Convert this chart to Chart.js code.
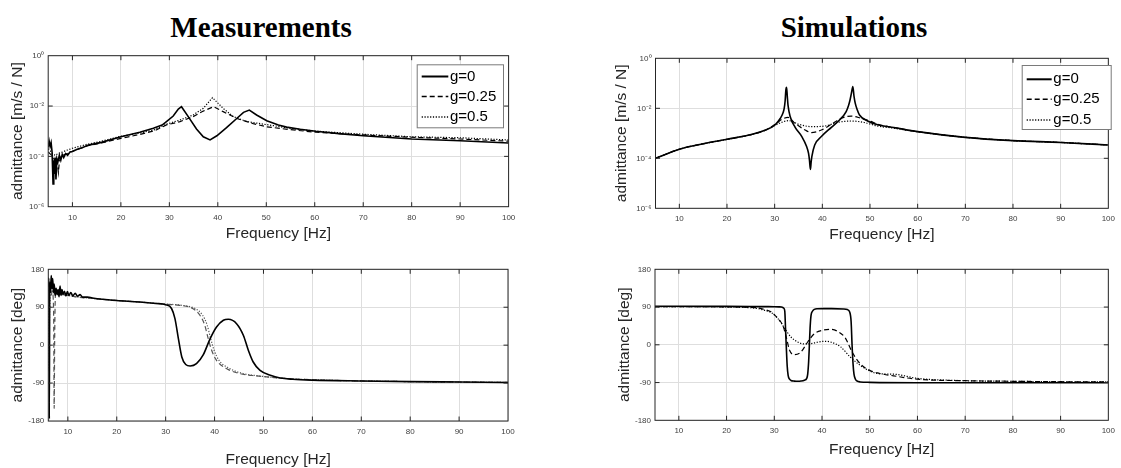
<!DOCTYPE html>
<html>
<head>
<meta charset="utf-8">
<script src="https://cdn.jsdelivr.net/npm/chart.js@4.4.1/dist/chart.umd.min.js"></script>
<style>
  html, body { margin: 0; padding: 0; background: #fff; }
  #fig { position: relative; width: 1121px; height: 468px; overflow: hidden; }
  #fig canvas { position: absolute; left: 0; top: 0; }
  .sup {
    position: absolute; top: 13px; transform: translateX(-50%);
    font: bold 29px "Liberation Serif", "Times New Roman", serif;
    line-height: 29px; white-space: nowrap; color: #000;
  }
</style>
</head>
<body>
<div id="fig">
  <div class="sup" style="left:261px">Measurements</div>
  <div class="sup" style="left:854px">Simulations</div>
  <canvas id="meas-mag"   width="1121" height="468"></canvas>
  <canvas id="sim-mag"    width="1121" height="468"></canvas>
  <canvas id="meas-phase" width="1121" height="468"></canvas>
  <canvas id="sim-phase"  width="1121" height="468"></canvas>
</div>
<script>
// ─────────────────────────────────────────────
//  Data
// ─────────────────────────────────────────────

const LABELS      = ['g=0', 'g=0.25', 'g=0.5'];
const FREQ_TICKS  = [10, 20, 30, 40, 50, 60, 70, 80, 90, 100];
const MAG_TICKS   = [1e-6, 1e-4, 1e-2, 1];
const MAG_TEXT    = { 1e-6: '10⁻⁶', 1e-4: '10⁻⁴', 1e-2: '10⁻²', 1: '10⁰' };
const PHASE_TICKS = [-180, -90, 0, 90, 180];

// Measurements: admittance magnitude [m/s / N]
const measMagF0 = [5.0, 5.2, 5.4, 5.6, 5.8, 6.0, 6.15, 6.3, 6.45, 6.6, 6.8, 7.0, 7.3, 7.6, 7.9, 8.2, 8.6, 9.0, 9.5, 10,
                   11, 12, 13.3, 16, 20, 23.9, 26.7, 28.5, 29.4, 30.8, 31.85, 32.5, 33.9, 35.6, 37, 38.4, 39.8, 41.8,
                   43.9, 45.3, 46.5, 48, 50.1, 52.5, 54.2, 57, 60.2, 65, 70, 80, 90, 100];
const measMag0  = [2.3e-4, 4e-4, 2.5e-4, 3.5e-4, 1.5e-4, 8e-6, 7e-5, 2e-5, 9e-5, 1.2e-5, 8e-5, 6e-5, 1.1e-4, 7e-5, 1.2e-4,
                   9e-5, 1.3e-4, 1.1e-4, 1.5e-4, 1.55e-4, 1.9e-4, 2.2e-4, 2.8e-4, 3.6e-4, 6e-4, 9.1e-4, 1.3e-3, 1.75e-3,
                   2.4e-3, 4e-3, 7.6e-3, 9.4e-3, 3.8e-3, 1.23e-3, 6e-4, 4.5e-4, 6.6e-4, 1.38e-3, 3.2e-3, 5.6e-3, 6.9e-3,
                   4.4e-3, 2.6e-3, 1.78e-3, 1.45e-3, 1.2e-3, 1.0e-3, 8e-4, 6.6e-4, 4.9e-4, 4.2e-4, 3.4e-4];

const measMagF1 = [5.0, 5.5, 6.0, 6.3, 6.6, 6.9, 7.1, 7.3, 7.6, 8, 9, 10, 13, 16, 20, 24, 27, 29.4, 32.2, 34.9, 37, 39.1,
                   41.1, 43.9, 47.3, 50.1, 55, 60.2, 70, 80, 90, 100];
const measMag1  = [1.5e-4, 1.2e-4, 1e-4, 7e-5, 9e-5, 5e-5, 2.3e-5, 6e-5, 1e-4, 1.1e-4, 1.3e-4, 1.6e-4, 2.6e-4, 3.4e-4,
                   5.2e-4, 7.5e-4, 1.05e-3, 1.78e-3, 2.4e-3, 3.8e-3, 6.3e-3, 9.4e-3, 6e-3, 3.2e-3, 2.0e-3, 1.5e-3,
                   1.15e-3, 9.1e-4, 7.1e-4, 5.75e-4, 4.9e-4, 4.0e-4];

const measMagF2 = [5.0, 5.5, 6.0, 6.5, 7, 8, 9, 10, 13, 16, 20, 24, 27, 29.4, 32.2, 34.9, 37, 38.9, 41.1, 43.2, 46, 51.5,
                   55, 60.2, 70, 80, 90, 100];
const measMag2  = [2e-4, 1.6e-4, 1.2e-4, 1.1e-4, 1.3e-4, 1.5e-4, 1.8e-4, 2.1e-4, 3e-4, 4e-4, 6.3e-4, 8.5e-4, 1.15e-3,
                   1.9e-3, 2.8e-3, 4.4e-3, 8.1e-3, 2.15e-2, 8.1e-3, 3.8e-3, 2.4e-3, 1.66e-3, 1.3e-3, 1.0e-3, 7.6e-4,
                   6.0e-4, 5.5e-4, 4.5e-4];

// Simulations: admittance magnitude [m/s / N]
const simMagF0 = [5, 10, 15, 20, 25.3, 28.1, 30, 31.2, 31.8, 32.0, 32.2, 32.35, 32.5, 32.65, 32.8, 33.25, 34.3, 35.7,
                  36.7, 37.1, 37.3, 37.5, 37.65, 37.8, 38.4, 39.8, 41.9, 43.6, 45, 45.5, 45.8, 46.1, 46.4, 46.65, 46.9,
                  47.3, 47.8, 49.5, 51.6, 55, 60, 70, 80, 90, 100];
const simMag0  = [1.0e-4, 2.3e-4, 3.8e-4, 5.75e-4, 9.1e-4, 1.35e-3, 2.1e-3, 4.0e-3, 7e-3, 1.0e-2, 2e-2, 5.4e-2, 6.9e-2,
                  3e-2, 1.35e-2, 4.7e-3, 1.74e-3, 7.4e-4, 2.95e-4, 1.6e-4, 8.5e-5, 3.6e-5, 7e-5, 1.17e-4, 3.4e-4,
                  7.4e-4, 1.74e-3, 3.4e-3, 7.4e-3, 1.3e-2, 2.1e-2, 4e-2, 7.4e-2, 3e-2, 1.6e-2, 9e-3, 5.4e-3, 3.1e-3,
                  2.2e-3, 1.7e-3, 1.17e-3, 6.9e-4, 5.1e-4, 4.3e-4, 3.4e-4];

const simMagF1 = [5, 10, 15, 20, 25.3, 28.1, 30.1, 31.5, 32.8, 34.3, 36.4, 37.7, 39.8, 41.9, 44, 46.1, 48.1, 50.2, 51.6,
                  55, 60, 70, 80, 90, 100];
const simMag1  = [1.0e-4, 2.3e-4, 3.8e-4, 5.75e-4, 9.1e-4, 1.35e-3, 2.3e-3, 3.6e-3, 4.3e-3, 2.5e-3, 1.35e-3, 1.07e-3,
                  1.35e-3, 2.3e-3, 4.0e-3, 4.9e-3, 4.0e-3, 3.0e-3, 2.3e-3, 1.7e-3, 1.17e-3, 6.9e-4, 5.1e-4, 4.3e-4, 3.4e-4];

const simMagF2 = [5, 10, 15, 20, 25.3, 28.1, 30.1, 32.9, 35, 37.7, 40.5, 43.3, 46.1, 48.8, 51.6, 55, 60, 70, 80, 90, 100];
const simMag2  = [1.0e-4, 2.3e-4, 3.8e-4, 5.75e-4, 9.1e-4, 1.35e-3, 2.1e-3, 3.2e-3, 2.3e-3, 1.85e-3, 1.95e-3, 2.75e-3,
                  3.1e-3, 2.7e-3, 1.95e-3, 1.6e-3, 1.15e-3, 6.9e-4, 5.1e-4, 4.3e-4, 3.4e-4];

// Measurements: phase [deg]
const measPhF0 = [6.0, 6.1, 6.2, 6.3, 6.45, 6.6, 6.75, 6.9, 7.05, 7.2, 7.4, 7.6, 7.8, 8.0, 8.2, 8.4, 8.6, 8.8, 9.0, 9.3,
                  9.6, 9.9, 10.2, 10.6, 11, 11.5, 12, 12.5, 13, 14, 15, 17, 20, 24.7, 28, 30, 31.2, 31.9, 32.6, 33.3,
                  34.1, 35, 36.3, 37.7, 39.1, 40.4, 41.8, 42.8, 44.5, 45.9, 46.9, 47.9, 49.3, 51.4, 53.4, 56, 60, 70,
                  80, 90, 100];
const measPh0  = [100, 160, -175, 150, 125, 165, 135, 158, 125, 145, 118, 135, 120, 132, 115, 140, 118, 132, 120, 128,
                  117, 127, 118, 125, 117, 123, 116, 120, 114, 114, 112, 109, 106, 102.5, 99, 96, 87, 63, 15.5, -28,
                  -46, -49.5, -44, -22.5, 15.5, 43, 59, 61.3, 51, 23, -12, -40, -60, -71.6, -78, -81, -83, -85,
                  -86.5, -87.5, -88.5];

const measPhF1 = [6.0, 6.2, 6.4, 6.6, 6.8, 7.0, 7.1, 7.2, 7.3, 7.45, 7.6, 8, 9, 10, 12, 15, 20, 25, 30, 32.9, 35.6, 37,
                  38, 38.7, 39.4, 40.4, 42.5, 45.2, 48.6, 53.4, 60, 70, 80, 90, 100];
const measPh1  = [150, 128, 140, 118, 128, 112, 60, -150, 10, 118, 128, 122, 120, 118, 114, 111, 106, 102, 97, 94.6,
                  86.6, 71, 47, 15.5, -12, -36, -56, -67.6, -73, -78, -82, -85, -86.5, -87.5, -88.5];

const measPhF2 = [6.0, 6.1, 6.15, 6.25, 6.4, 6.6, 6.8, 7.0, 7.3, 7.6, 8, 9, 10, 12, 15, 20, 25, 30, 33, 36, 37.5, 38.5,
                  39.2, 39.9, 40.9, 43, 45.7, 49, 53.4, 60, 70, 80, 90, 100];
const measPh2  = [95, 40, -60, 60, 120, 150, 125, 135, 120, 128, 123, 120, 118, 114, 111, 106, 102, 97.5, 95, 87, 72,
                  47, 15.5, -12, -36, -55, -67, -73, -78, -82, -85, -86.5, -87.5, -88.5];

// Simulations: phase [deg]
const simPhF0 = [5, 10, 20, 25, 28, 30, 31, 31.5, 32.0, 32.2, 32.35, 32.5, 32.7, 32.9, 33.2, 33.5, 34.2, 34.9, 35.6,
                 36.3, 36.8, 37.0, 37.2, 37.35, 37.5, 37.7, 38.0, 38.4, 39, 40.4, 42, 44.5, 45.3, 45.8, 46.1, 46.3,
                 46.5, 46.7, 47.0, 47.3, 48, 50, 60, 70, 80, 90, 100];
const simPh0  = [91.8, 91.8, 91.5, 91.3, 91, 90.8, 90.5, 90, 87, 80, 40, -1, -50, -73, -82, -85, -86.5, -87, -86.5,
                 -84.5, -80, -70, -40, -1, 40, 70, 80, 84.6, 86, 86.2, 86.2, 85.4, 84, 78, 55, -1, -45, -70, -82,
                 -86, -88.5, -89.5, -90.3, -90.3, -90.3, -90.3, -90.3];

const simPhF1 = [5, 15, 20, 24, 26.7, 28, 29.4, 30.8, 31.8, 32.5, 33.2, 34.2, 35.6, 37, 38.4, 40.1, 41.8, 43.5, 44.9,
                 46.3, 48, 50, 52, 55, 60, 70, 80, 90, 100];
const simPh1  = [91, 91, 90.5, 89.5, 87.8, 84, 78, 62, 46, 18.6, -13, -23.5, -17, 6.7, 26.6, 34.5, 37, 30.6, 16, -17,
                 -45, -61, -68, -74, -82, -85.6, -87, -88, -88.5];

const simPhF2 = [5, 15, 20, 24, 26.7, 28, 29.4, 31.1, 32.2, 33.5, 34.9, 36.3, 37.7, 39, 40.4, 41.8, 43.9, 45.9, 48, 50,
                 52, 55, 60, 70, 80, 90, 100];
const simPh2  = [91, 91, 90.3, 89, 86, 82, 76.7, 58, 38.5, 18.6, 6.7, 2, 2.7, 6, 8.3, 6.7, -5, -29, -49, -62.5, -69,
                 -70, -80, -85.6, -87, -88, -88.5];

// ─────────────────────────────────────────────
//  Styling
// ─────────────────────────────────────────────

const FONT       = '"Liberation Sans", Arial, Helvetica, sans-serif';
const AXIS_COLOR = '#262626';
const GRID_COLOR = '#dedede';
const TICK_LEN   = 4.5;
const TITLE_SIZE = 15.5;

const LINE_STYLES = [
  { borderWidth: 1.6, borderDash: [] },
  { borderWidth: 1.2, borderDash: [5, 3] },
  { borderWidth: 1.2, borderDash: [1.2, 1.6] },
];

// inward tick marks on all four sides + black box (MATLAB look)
const frameTicks = {
  id: 'frameTicks',
  afterDatasetsDraw(chart) {
    const { ctx, chartArea: a, scales: { x, y } } = chart;
    ctx.save();
    ctx.strokeStyle = AXIS_COLOR;
    ctx.lineWidth = 1;
    ctx.beginPath();
    x.ticks.forEach(t => {
      const px = x.getPixelForValue(t.value);
      if (px <= a.left + 1 || px >= a.right - 1) return;
      ctx.moveTo(px, a.bottom); ctx.lineTo(px, a.bottom - TICK_LEN);
      ctx.moveTo(px, a.top);    ctx.lineTo(px, a.top + TICK_LEN);
    });
    y.ticks.forEach(t => {
      const py = y.getPixelForValue(t.value);
      if (py <= a.top + 1 || py >= a.bottom - 1) return;
      ctx.moveTo(a.left, py);  ctx.lineTo(a.left + TICK_LEN, py);
      ctx.moveTo(a.right, py); ctx.lineTo(a.right - TICK_LEN, py);
    });
    ctx.stroke();
    ctx.strokeRect(a.left, a.top, a.right - a.left, a.bottom - a.top);
    ctx.restore();
  }
};

// legend box drawn inside the axes, lines taken from the datasets
const boxLegend = {
  id: 'boxLegend',
  afterDraw(chart, args, o) {
    if (!o || !o.box) return;
    const { ctx } = chart;
    const [x0, y0, x1, y1] = o.box;
    ctx.save();
    ctx.fillStyle = '#fff';
    ctx.fillRect(x0, y0, x1 - x0, y1 - y0);
    ctx.strokeStyle = '#7a7a7a';
    ctx.lineWidth = 1;
    ctx.strokeRect(x0 + 0.5, y0 + 0.5, x1 - x0 - 1, y1 - y0 - 1);
    ctx.font = `15px ${FONT}`;
    ctx.textBaseline = 'middle';
    chart.data.datasets.forEach((ds, i) => {
      const yy = o.rows[i];
      ctx.beginPath();
      ctx.setLineDash(ds.borderDash);
      ctx.lineWidth   = ds.borderWidth + 0.4;
      ctx.strokeStyle = ds.borderColor;
      ctx.moveTo(o.line[0], yy);
      ctx.lineTo(o.line[1], yy);
      ctx.stroke();
      ctx.setLineDash([]);
      ctx.fillStyle = '#000';
      ctx.fillText(ds.label, o.textX, yy);
    });
    ctx.restore();
  }
};

// ─────────────────────────────────────────────
//  Chart factory
// ─────────────────────────────────────────────

const pts = (fs, vs) => fs.map((f, i) => ({ x: f, y: vs[i] }));

function makeChart(id, g) {
  const TITLE_HALF = TITLE_SIZE / 2;
  const padLeft    = g.yTitleX - TITLE_HALF;
  const padBottom  = 468 - g.xTitleY - TITLE_HALF;
  const yWidth     = g.L - padLeft;
  const xHeight    = 468 - padBottom - g.B;

  const datasets = g.series.map((s, i) => ({
    label: LABELS[i],
    data: pts(s[0], s[1]),
    borderColor: g.colors[i],
    ...LINE_STYLES[i],
    pointRadius: 0,
    fill: false,
    cubicInterpolationMode: g.smooth ? 'monotone' : 'default',
    tension: 0,
  }));

  const yScale = g.log
    ? { type: 'logarithmic', min: 1e-6, max: 1,
        afterBuildTicks: s => { s.ticks = MAG_TICKS.map(v => ({ value: v })); },
        ticks: { callback: v => MAG_TEXT[v] } }
    : { type: 'linear', min: -180, max: 180,
        afterBuildTicks: s => { s.ticks = PHASE_TICKS.map(v => ({ value: v })); },
        ticks: {} };

  Object.assign(yScale.ticks, { color: '#404040', font: { family: FONT, size: 8 }, padding: 4 });
  Object.assign(yScale, {
    grid:   { color: GRID_COLOR, drawTicks: false },
    border: { display: false },
    title:  { display: true, text: g.yTitle, color: AXIS_COLOR, padding: 0,
              font: { family: FONT, size: TITLE_SIZE, lineHeight: 1 } },
    afterFit: s => { s.width = yWidth; },
  });

  new Chart(document.getElementById(id), {
    type: 'line',
    data: { datasets },
    options: {
      responsive: false,
      animation: false,
      events: [],
      layout: { padding: { left: padLeft, top: g.T, right: 1121 - g.R, bottom: padBottom } },
      plugins: {
        legend:  { display: false },
        tooltip: { enabled: false },
        boxLegend: g.legend || false,
      },
      scales: {
        x: {
          type: 'linear', min: g.xmin, max: 100,
          afterBuildTicks: s => { s.ticks = FREQ_TICKS.map(v => ({ value: v })); },
          ticks:  { color: '#404040', font: { family: FONT, size: 8 }, padding: 6, maxRotation: 0, autoSkip: false },
          grid:   { color: GRID_COLOR, drawTicks: false },
          border: { display: false },
          title:  { display: true, text: 'Frequency [Hz]', color: AXIS_COLOR, padding: 0,
                    font: { family: FONT, size: TITLE_SIZE, lineHeight: 1 } },
          afterFit: s => { s.height = xHeight; },
        },
        y: yScale,
      }
    },
    plugins: [frameTicks, boxLegend]
  });
}

// ─────────────────────────────────────────────
//  Init
// ─────────────────────────────────────────────

makeChart('meas-mag', {
  L: 48.2, T: 55.7, R: 508.6, B: 206.7, yTitleX: 18, xTitleY: 233.5, xmin: 5,
  log: true, smooth: false, yTitle: 'admittance [m/s / N]',
  colors: ['#000', '#000', '#000'],
  series: [[measMagF0, measMag0], [measMagF1, measMag1], [measMagF2, measMag2]],
  legend: { box: [416.7, 64.3, 504, 128.3], rows: [76.5, 96.5, 117], line: [421.7, 448.3], textX: 450 },
});

makeChart('sim-mag', {
  L: 655.5, T: 58.3, R: 1113.5, B: 208.3, yTitleX: 622, xTitleY: 235, xmin: 5,
  log: true, smooth: true, yTitle: 'admittance [m/s / N]',
  colors: ['#000', '#000', '#000'],
  series: [[simMagF0, simMag0], [simMagF1, simMag1], [simMagF2, simMag2]],
  legend: { box: [1021.7, 65, 1111.7, 130], rows: [79.3, 99.3, 120], line: [1026.7, 1051.7], textX: 1053.3 },
});

makeChart('meas-phase', {
  L: 48.3, T: 269.3, R: 508, B: 421, yTitleX: 18, xTitleY: 460, xmin: 6,
  log: false, smooth: true, yTitle: 'admittance [deg]',
  colors: ['#000', '#555', '#555'],
  series: [[measPhF0, measPh0], [measPhF1, measPh1], [measPhF2, measPh2]],
});

makeChart('sim-phase', {
  L: 655, T: 269.3, R: 1113.5, B: 420.3, yTitleX: 625, xTitleY: 450, xmin: 5,
  log: false, smooth: true, yTitle: 'admittance [deg]',
  colors: ['#000', '#000', '#000'],
  series: [[simPhF0, simPh0], [simPhF1, simPh1], [simPhF2, simPh2]],
});
</script>
</body>
</html>
